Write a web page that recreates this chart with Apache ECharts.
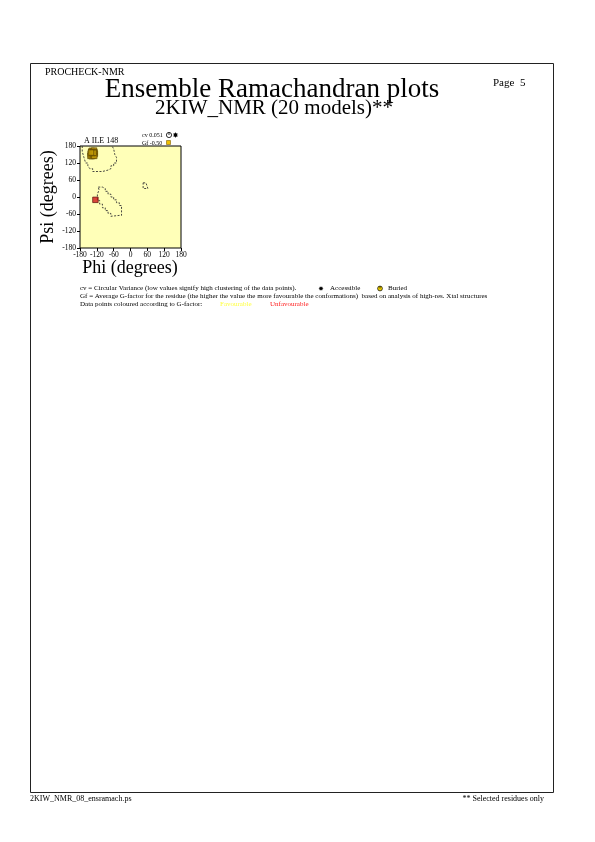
<!DOCTYPE html>
<html><head><meta charset="utf-8">
<script src="https://cdn.jsdelivr.net/npm/echarts@6/dist/echarts.min.js"></script>
<style>html,body{margin:0;padding:0;background:#fff}#c{width:595px;height:842px}</style>
</head><body><div id="c"></div>
<script>
// ---- data ----
const psiTicks = [180, 120, 60, 0, -60, -120, -180];
const phiTicks = [-180, -120, -60, 0, 60, 120, 180];
const residueLabel = 'A ILE 148';
const cvValue = '0.051';
const gfValue = '-0.50';
// dashed core-region outlines [phi, psi]
const betaRegion = [[-172,180],[-172,160],[-166,160],[-166,140],[-160,140],[-160,120],[-152,120],[-152,110],[-145,110],[-145,100],[-135,100],[-135,90],[-100,90],[-100,95],[-80,95],[-80,100],[-70,100],[-70,110],[-60,110],[-60,120],[-50,120],[-50,140],[-56,140],[-56,150],[-60,150],[-60,170],[-66,170],[-66,180]];
const alphaRegion = [[-115,35],[-100,35],[-100,30],[-90,30],[-90,20],[-80,20],[-80,10],[-70,10],[-70,0],[-60,0],[-60,-10],[-50,-10],[-50,-20],[-40,-20],[-40,-30],[-32,-30],[-32,-65],[-40,-65],[-40,-68],[-70,-68],[-70,-58],[-80,-58],[-80,-48],[-90,-48],[-90,-38],[-100,-38],[-100,-25],[-110,-25],[-110,-12],[-118,-12],[-118,10],[-112,10],[-112,25],[-115,25],[-115,35]];
const leftAlphaRegion = [[45,50],[55,50],[55,45],[62,45],[62,30],[45,30],[45,50]];
// data points (phi, psi) of the 20 models
const favourablePts = [[-140,160],[-138,163],[-135,158],[-132,161],[-130,164],[-128,158],[-142,152],[-140,148],[-137,150],[-134,153],[-130,150],[-127,153],[-143,145],[-138,144],[-133,146],[-129,145],[-136,155],[-131,156],[-141,157]];
const unfavourablePts = [[-125,-10]];

const FONT = 'Liberation Serif';
const chart = echarts.init(document.getElementById('c'), null, {renderer:'canvas'});

function star(cx, cy, r1, r2, n){
  const pts=[];
  for(let i=0;i<2*n;i++){const r=i%2?r2:r1;const a=Math.PI*i/n;pts.push([cx+r*Math.cos(a),cy+r*Math.sin(a)]);}
  return pts;
}

const txt = (x,y,t,size,extra,more) => Object.assign({type:'text',x:x,y:y,style:Object.assign({text:t,font:size+'px "'+FONT+'"',fill:'#000'},extra||{})},more||{});

const axisCommon = {
  type:'value',min:-180,max:180,interval:60,
  axisLine:{show:false,onZero:false},splitLine:{show:false},
  axisTick:{show:true,inside:false,length:3,lineStyle:{color:'#000',width:1}},
  axisLabel:{color:'#000',fontFamily:FONT,fontSize:7.5,showMinLabel:true,showMaxLabel:true}
};

chart.setOption({
  backgroundColor:'#fff',
  animation:false,
  grid:{left:80,top:146,width:101,height:102,show:true,backgroundColor:'#ffffb8',borderColor:'#000',borderWidth:1},
  xAxis:Object.assign({},axisCommon,{axisLabel:Object.assign({},axisCommon.axisLabel,{margin:3})}),
  yAxis:Object.assign({},axisCommon,{axisLabel:Object.assign({},axisCommon.axisLabel,{margin:4})}),
  series:[
    {type:'line',data:betaRegion,showSymbol:false,symbol:'none',lineStyle:{color:'#333',width:0.9,type:[2,1.5]},z:2},
    {type:'line',data:alphaRegion,showSymbol:false,symbol:'none',lineStyle:{color:'#333',width:0.9,type:[2,1.5]},z:2},
    {type:'line',data:leftAlphaRegion,showSymbol:false,symbol:'none',lineStyle:{color:'#333',width:0.9,type:[2,1.5]},z:2},
    {type:'scatter',data:favourablePts,symbol:'rect',symbolSize:5.5,itemStyle:{color:'#c09a08',borderColor:'#5a4200',borderWidth:0.8},z:3},
    {type:'scatter',data:unfavourablePts,symbol:'rect',symbolSize:5.5,itemStyle:{color:'#d01818',borderColor:'#4a0000',borderWidth:0.8},z:3}
  ],
  graphic:[
    {type:'rect',shape:{x:30.5,y:63.5,width:523,height:729},style:{fill:null,stroke:'#222',lineWidth:1},silent:true},
    txt(45,67,'PROCHECK-NMR',10),
    txt(272,76,'Ensemble Ramachandran plots',27,{align:'center'}),
    txt(274,98,'2KIW_NMR (20 models)**',21,{align:'center'}),
    txt(493,78,'Page  5',11),
    txt(84,137,residueLabel,8),
    txt(142,132,'cv '+cvValue,6),
    {type:'circle',shape:{cx:169,cy:135,r:2.6},style:{fill:'#fff',stroke:'#000',lineWidth:0.8}},
    {type:'line',shape:{x1:169,y1:135,x2:169,y2:132.4},style:{stroke:'#000',lineWidth:0.8}},
    {type:'polygon',shape:{points:star(175.5,135,3,1.5,8)},style:{fill:'#000'}},
    txt(142,140,'Gf '+gfValue,6),
    {type:'rect',shape:{x:166.5,y:140.5,width:4,height:4},style:{fill:'#f0c000',stroke:'#806000',lineWidth:0.6}},
    txt(48,197,'Psi (degrees)',18,{align:'center',verticalAlign:'middle'},{rotation:Math.PI/2,originX:0,originY:0}),
    txt(130,259,'Phi (degrees)',18,{align:'center'}),
    txt(80,285,'cv = Circular Variance (low values signify high clustering of the data points).',7),
    {type:'polygon',shape:{points:star(321,288.5,2.6,1.3,8)},style:{fill:'#000'}},
    txt(330,285,'Accessible',7),
    {type:'circle',shape:{cx:380,cy:288.5,r:2.4},style:{fill:'#f0d000',stroke:'#000',lineWidth:0.7}},
    {type:'line',shape:{x1:380,y1:288.5,x2:380,y2:286.3},style:{stroke:'#000',lineWidth:0.7}},
    txt(388,285,'Buried',7),
    txt(80,293,'Gf = Average G-factor for the residue (the higher the value the more favourable the conformations)  based on analysis of high-res. Xtal structures',7),
    txt(80,301,'Data points coloured according to G-factor:',7),
    txt(220,301,'Favourable',7,{fill:'#ffff40'}),
    txt(270,301,'Unfavourable',7,{fill:'#ff2020'}),
    txt(30,795,'2KIW_NMR_08_ensramach.ps',8),
    txt(544,795,'** Selected residues only',8,{align:'right'})
  ]
});
</script>
</body></html>
